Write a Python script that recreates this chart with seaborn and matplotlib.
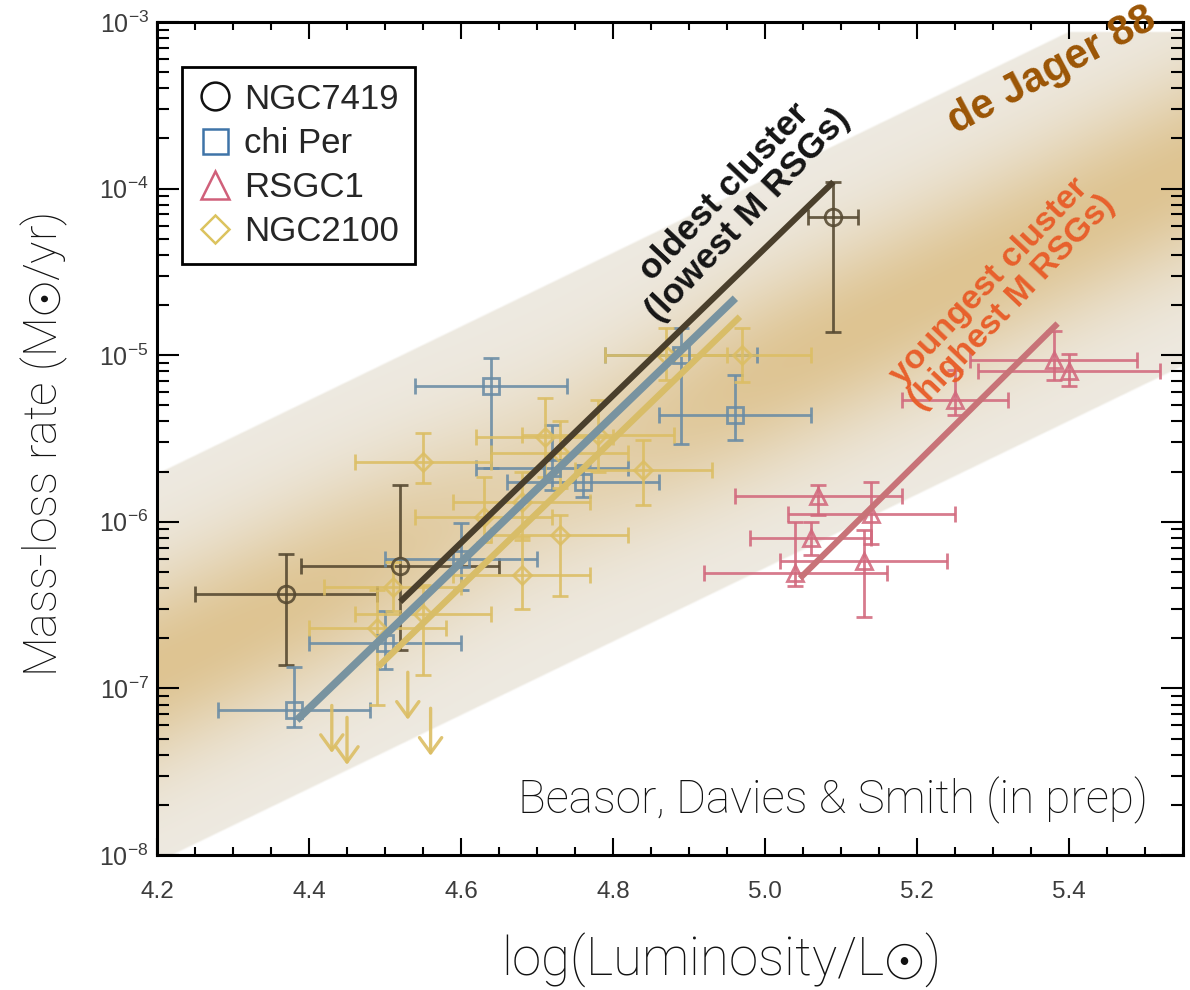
import numpy as np
import matplotlib
matplotlib.use("Agg")
import matplotlib.pyplot as plt
from matplotlib.lines import Line2D
from matplotlib.ticker import MultipleLocator, LogLocator, FuncFormatter, NullFormatter
import seaborn as sns

# ---------------- data ----------------
# NGC 7419 (oldest cluster)
n7419_L = [4.37, 4.52, 5.09]
n7419_Lerr = [0.12, 0.13, 0.033]
n7419_M = [3.7e-7, 5.4e-7, 6.8e-5]
n7419_Mlo = [1.38e-7, 1.7e-7, 1.37e-5]
n7419_Mhi = [6.4e-7, 1.66e-6, 1.1e-4]

# chi Per
chiper_L = [4.38, 4.50, 4.60, 4.64, 4.72, 4.76, 4.89, 4.96]
chiper_Lerr = [0.10, 0.10, 0.10, 0.10, 0.10, 0.10, 0.10, 0.10]
chiper_M = [7.4e-8, 1.86e-7, 6.0e-7, 6.5e-6, 2.1e-6, 1.74e-6, 1.0e-5, 4.4e-6]
chiper_Mlo = [5.9e-8, 1.3e-7, 3.9e-7, 2.1e-6, 1.55e-6, 1.4e-6, 2.95e-6, 3.1e-6]
chiper_Mhi = [1.35e-7, 2.9e-7, 9.9e-7, 9.6e-6, 3.8e-6, 2.2e-6, 1.45e-5, 7.6e-6]

# RSGC1 (youngest cluster)
rsgc1_L = [5.07, 5.14, 5.06, 5.04, 5.13, 5.25, 5.38, 5.40]
rsgc1_Lerr = [0.11, 0.11, 0.08, 0.12, 0.11, 0.07, 0.11, 0.12]
rsgc1_M = [1.42e-6, 1.12e-6, 8.0e-7, 4.9e-7, 5.8e-7, 5.4e-6, 9.4e-6, 8.0e-6]
rsgc1_Mlo = [1.1e-6, 7.4e-7, 6.3e-7, 4.1e-7, 2.7e-7, 4.4e-6, 7.1e-6, 6.5e-6]
rsgc1_Mhi = [1.66e-6, 1.74e-6, 1.0e-6, 1.0e-6, 8.9e-7, 8.1e-6, 1.4e-5, 1.02e-5]

# NGC 2100
n2100_L = [4.49, 4.51, 4.55, 4.63, 4.68, 4.55, 4.71, 4.73, 4.78, 4.84, 4.73, 4.68, 4.87, 4.97]
n2100_Lerr = [0.09, 0.09, 0.09, 0.09, 0.09, 0.09, 0.09, 0.09, 0.10, 0.09, 0.09, 0.09, 0.08, 0.09]
n2100_M = [2.3e-7, 4.05e-7, 2.8e-7, 1.07e-6, 1.32e-6, 2.3e-6, 3.25e-6, 2.6e-6,
           3.3e-6, 2.05e-6, 8.3e-7, 4.8e-7, 1.0e-5, 1.0e-5]
n2100_Mlo = [7.9e-8, 2.9e-7, 1.2e-7, 7.6e-7, 7.8e-7, 1.7e-6, 1.87e-6, 1.6e-6,
             2.0e-6, 1.26e-6, 3.6e-7, 3.0e-7, 7.1e-6, 6.9e-6]
n2100_Mhi = [3.9e-7, 5.7e-7, 4.2e-7, 1.87e-6, 2.0e-6, 3.4e-6, 5.5e-6, 4.0e-6,
             5.4e-6, 3.1e-6, 1.1e-6, 8.1e-7, 1.45e-5, 1.45e-5]

# NGC 2100 upper limits
n2100_lim_L = [4.43, 4.45, 4.53, 4.56]
n2100_lim_M = [7.9e-8, 6.7e-8, 1.25e-7, 7.6e-8]

# Straight-line fits (log Mdot vs log L), given at their end points
fit_n7419_L = [4.52, 5.09]
fit_n7419_logM = [-6.48, -3.96]
fit_chiper_L = [4.384, 4.961]
fit_chiper_logM = [-7.19, -4.658]
fit_n2100_L = [4.491, 4.967]
fit_n2100_logM = [-6.87, -4.769]
fit_rsgc1_L = [5.046, 5.385]
fit_rsgc1_logM = [-6.339, -4.81]

# de Jager (1988) prescription band
band_L = [4.2, 5.55]
band_upper = [-5.706, -2.72]
band_lower = [-8.05, -5.07]

# ---------------- style ----------------
sns.set_theme(style="ticks")
plt.rcParams["font.family"] = ["Liberation Sans", "DejaVu Sans"]
plt.rcParams["mathtext.fontset"] = "custom"
plt.rcParams["mathtext.rm"] = "Liberation Sans"
plt.rcParams["mathtext.it"] = "Liberation Sans:italic"
plt.rcParams["mathtext.bf"] = "Liberation Sans:bold"
plt.rcParams["mathtext.fallback"] = "cm"

THIN = ["Roboto", "DejaVu Sans"]

fig = plt.figure(figsize=(11.9, 9.9), dpi=100)
ax = fig.add_axes([157 / 1190, 1 - 855 / 990, (1183 - 157) / 1190, (855 - 22) / 990])

XLIM = (4.2, 5.55)
YLOG = (-8.0, -3.0)
ax.set_xlim(*XLIM)
ax.set_yscale("log")
ax.set_ylim(10 ** YLOG[0], 10 ** YLOG[1])

# ---- shaded band, drawn as an image in axes space ----
nx, ny = 1100, 900
u = (np.arange(nx) + 0.5) / nx
v = (np.arange(ny) + 0.5) / ny
U, V = np.meshgrid(u, v)
Lg = XLIM[0] + U * (XLIM[1] - XLIM[0])
Yg = YLOG[0] + V * (YLOG[1] - YLOG[0])
lo = np.interp(Lg, band_L, band_lower)
hi = np.interp(Lg, band_L, band_upper)
t = (Yg - lo) / (hi - lo)
edge_c = np.array([238, 234, 226]) / 255.0
core_c = np.array([222, 196, 146]) / 255.0
prof = np.exp(-((t - 0.5) / 0.25) ** 2)
prof *= 1.0 - 0.35 * np.exp(-((Lg - 4.70) / 0.20) ** 2)
rgba = np.zeros((ny, nx, 4))
for k in range(3):
    rgba[..., k] = edge_c[k] + (core_c[k] - edge_c[k]) * prof
alpha = np.clip(t / 0.006, 0, 1) * np.clip((1 - t) / 0.006, 0, 1)
alpha *= np.clip((-3.055 - Yg) / 0.01, 0, 1)
rgba[..., 3] = alpha
ax.imshow(rgba, extent=(0, 1, 0, 1), transform=ax.transAxes, origin="lower",
          aspect="auto", interpolation="bilinear", zorder=0)

# ---- measurements ----
series = [
    (n7419_L, n7419_Lerr, n7419_M, n7419_Mlo, n7419_Mhi, "o", "#554830", 12),
    (chiper_L, chiper_Lerr, chiper_M, chiper_Mlo, chiper_Mhi, "s", "#6a8ca5", 11),
    (rsgc1_L, rsgc1_Lerr, rsgc1_M, rsgc1_Mlo, rsgc1_Mhi, "^", "#d2697d", 12),
    (n2100_L, n2100_Lerr, n2100_M, n2100_Mlo, n2100_Mhi, "D", "#dcbe64", 9.5),
]
for L, Lerr, M, Mlo, Mhi, mk, col, ms in series:
    M = np.asarray(M)
    yerr = [M - np.asarray(Mlo), np.asarray(Mhi) - M]
    ax.errorbar(L, M, xerr=Lerr, yerr=yerr, fmt=mk, mfc="none", mec=col, ms=ms,
                mew=2.0, ecolor=col, elinewidth=2.0, capsize=5.5, capthick=2.0,
                alpha=0.88, zorder=2)

for x, m in zip(n2100_lim_L, n2100_lim_M):
    ax.annotate("", xy=(x, m / 10 ** 0.285), xytext=(x, m),
                arrowprops=dict(arrowstyle="->,head_length=0.55,head_width=0.4",
                                lw=2.4, color="#dcbe64", alpha=0.9,
                                shrinkA=0, shrinkB=0, mutation_scale=20),
                zorder=2)

# ---- fitted relations ----
fits = [
    (fit_n7419_L, fit_n7419_logM, "#4a3f2c", 4.4),
    (fit_chiper_L, fit_chiper_logM, "#7893a0", 5.5),
    (fit_n2100_L, fit_n2100_logM, "#d8bd68", 4.6),
    (fit_rsgc1_L, fit_rsgc1_logM, "#c87378", 4.4),
]
for fL, fM, col, lw in fits:
    sns.lineplot(x=fL, y=10 ** np.asarray(fM), ax=ax, color=col, lw=lw,
                 estimator=None, sort=False, zorder=3, solid_capstyle="butt")

# ---- annotations ----
ax.text(5.378, 10 ** -3.29, "de Jager 88", rotation=28, rotation_mode="anchor",
        ha="center", va="center", fontsize=30, fontweight="bold",
        color="#9b5505", zorder=6, clip_on=False)
ax.text(4.962, 10 ** -4.09, "oldest cluster\n(lowest M RSGs)", rotation=46.5,
        rotation_mode="anchor", ha="center", va="center", multialignment="center",
        fontsize=25.5, fontweight="bold", color="#151515", linespacing=1.0, zorder=6)
ax.text(5.31, 10 ** -4.62, "youngest cluster\n(highest M RSGs)", rotation=46.5,
        rotation_mode="anchor", ha="center", va="center", multialignment="center",
        fontsize=24.5, fontweight="bold", color="#e8602c", linespacing=1.0, zorder=6)
ax.text(0.966, 0.066, "Beasor, Davies & Smith (in prep)", transform=ax.transAxes,
        ha="right", va="center", fontsize=33, color="#111111",
        family=THIN, fontweight="light", zorder=6)

# ---- axes decoration ----
ax.xaxis.set_major_locator(MultipleLocator(0.2))
ax.xaxis.set_minor_locator(MultipleLocator(0.05))
ax.xaxis.set_major_formatter(FuncFormatter(lambda v, p: f"{v:.1f}"))
ax.yaxis.set_major_locator(LogLocator(base=10, numticks=10))
ax.yaxis.set_minor_locator(LogLocator(base=10, subs=np.arange(2, 10), numticks=20))
ax.yaxis.set_minor_formatter(NullFormatter())
ax.yaxis.set_major_formatter(
    FuncFormatter(lambda v, p: r"$\mathrm{10^{%d}}$" % int(round(np.log10(v)))))

ax.tick_params(which="both", direction="in", top=True, right=True,
               color="black", width=1.5, labelcolor="#3c3c3c")
ax.tick_params(axis="y", which="major", length=16, pad=6, labelsize=18)
ax.tick_params(axis="y", which="minor", length=8.5)
ax.tick_params(axis="x", which="major", length=12, pad=19, labelsize=17.5)
ax.tick_params(axis="x", which="minor", length=6)
for s in ax.spines.values():
    s.set_linewidth(2.2)
    s.set_color("black")
    s.set_zorder(4)

ax.set_xlabel(r"log(Luminosity/L$\odot$)", fontsize=38, color="#111111",
              family=THIN, fontweight="light")
ax.set_ylabel(r"Mass-loss rate (M$\odot$/yr)", fontsize=33.5, color="#111111",
              family=THIN, fontweight="light")
for lab in (ax.xaxis.label, ax.yaxis.label):
    lab.set_rotation_mode("default")
    lab.set_ha("center")
    lab.set_va("center")
ax.xaxis.set_label_coords((720 - 157) / 1026, (855 - 960) / 833)
ax.yaxis.set_label_coords((44 - 157) / 1026, (855 - 445) / 833)

# ---- legend ----
handles = [
    Line2D([], [], ls="none", marker="o", mfc="none", mec="#111111", ms=20, mew=1.8),
    Line2D([], [], ls="none", marker="s", mfc="none", mec="#3f74a8", ms=18, mew=1.8),
    Line2D([], [], ls="none", marker="^", mfc="none", mec="#d0607a", ms=20, mew=1.8),
    Line2D([], [], ls="none", marker="D", mfc="none", mec="#dcc35f", ms=14.5, mew=1.8),
]
labels = ["NGC7419", "chi Per", "RSGC1", "NGC2100"]
leg = ax.legend(handles, labels, loc="upper left",
                bbox_to_anchor=((182 - 157) / 1026, (855 - 67) / 833),
                borderaxespad=0, frameon=True, fancybox=False, framealpha=1,
                edgecolor="black", fontsize=25, handlelength=1.0,
                handletextpad=0.35, borderpad=0.45, labelspacing=0.32)
leg.get_frame().set_linewidth(2.0)
leg.set_zorder(7)

fig.savefig("out.png", dpi=100, facecolor="white")
